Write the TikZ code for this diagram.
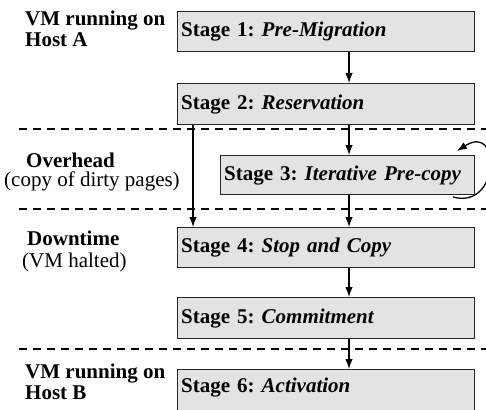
\documentclass[tikz,border=0pt]{standalone}
\usepackage{fontspec}
\setmainfont{Liberation Serif}
\usetikzlibrary{arrows.meta,calc}
\begin{document}
\frenchspacing
\begin{tikzpicture}[x=1pt,y=-1pt,
  stagebox/.style={draw=black!85,line width=1.4pt,fill=black!11,anchor=north west,
    minimum width=297pt,inner xsep=3pt,inner ysep=0pt,align=left,text width=290pt,font=\fontsize{21}{24}\selectfont},
  sidelbl/.style={anchor=base west,inner sep=0pt,align=left,font=\fontsize{21}{21}\selectfont},
  sep/.style={line width=1.3pt,dash pattern=on 8pt off 6pt},
  flow/.style={line width=1.3pt,-{Latex[length=10pt,width=7.5pt]}}]
\useasboundingbox (0,0) rectangle (486,409);
\coordinate (colx) at (349,0);
\coordinate (coll) at (193,0);
% boxes
\node[stagebox,minimum height=40pt] (b1) at (177,11) {\textbf{Stage 1: \textit{Pre-Migration}}};
\node[stagebox,minimum height=41pt] (b2) at (177,83) {\textbf{Stage 2: \textit{Reservation}}};
\node[stagebox,minimum height=39pt,minimum width=254pt,text width=247pt] (b3) at (220,155) {\textbf{Stage 3: \textit{Iterative Pre-copy}}};
\node[stagebox,minimum height=40pt] (b4) at (177,227) {\textbf{Stage 4: \textit{Stop and Copy}}};
\node[stagebox,minimum height=41pt] (b5) at (177,297) {\textbf{Stage 5: \textit{Commitment}}};
\node[stagebox,inner ysep=8pt,text height=15pt,text depth=25pt] (b6) at (177,369) {\textbf{Stage 6: \textit{Activation}}};
% separators
\coordinate (s1a) at (19,129); \coordinate (s1b) at (486,129);
\coordinate (s2a) at (19,209); \coordinate (s2b) at (486,209);
\coordinate (s3a) at (19,349); \coordinate (s3b) at (486,349);
\draw[sep] (s1a) -- (s1b);
\draw[sep] (s2a) -- (s2b);
\draw[sep] (s3a) -- (s3b);
% side labels (anchored at the baseline of the last line)
\node[sidelbl] (la) at (25,47) {\textbf{VM running on}\\\textbf{Host A}};
\node[sidelbl] (lo) at (4,186) {\hspace*{22pt}\textbf{Overhead}\\[-2pt](copy of dirty pages)};
\node[sidelbl] (ld) at (22,267) {\hspace*{5pt}\textbf{Downtime}\\[1pt](VM halted)};
\node[sidelbl] (lb) at (25,399) {\textbf{VM running on}\\\textbf{Host B}};
% arrows
\draw[flow] (b1.south -| colx) -- (b2.north -| colx);
\draw[flow] (b2.south -| colx) -- (b3.north -| colx);
\draw[flow] (b3.south -| colx) -- (b4.north -| colx);
\draw[flow] (b4.south -| colx) -- (b5.north -| colx);
\draw[flow] (b5.south -| colx) -- (b6.north -| colx);
\draw[flow] (b2.south -| coll) -- (b4.north -| coll);
% self loop
\coordinate (lp1) at (453,197);
\coordinate (lp2) at (457,151);
\draw[flow] (lp1) .. controls (500,210) and (502,122) .. (lp2);
\end{tikzpicture}
\end{document}
